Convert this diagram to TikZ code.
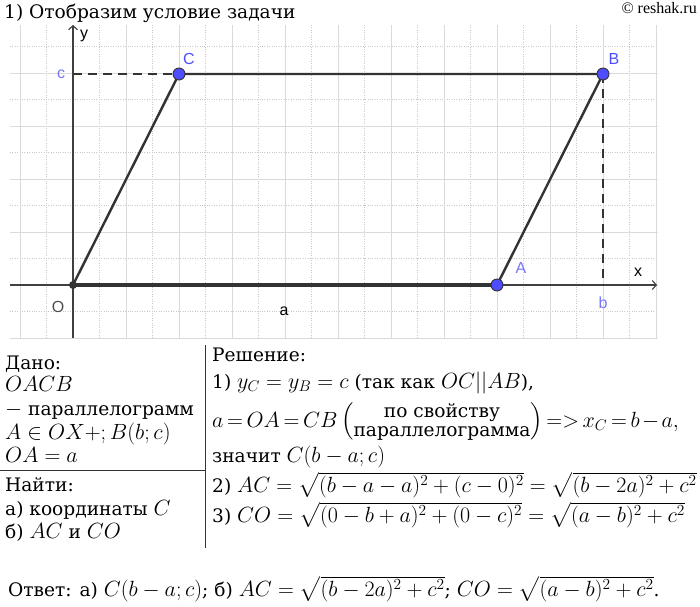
\RequirePackage{fix-cm}
\documentclass[tikz,border=0pt]{standalone}
\usepackage{amsmath}
\usepackage{fontspec}
\setmainfont{DejaVu Serif}[Scale=0.845]
\newfontfamily\geofont{Liberation Sans}
\newfontfamily\sitefont{Liberation Serif}
\usetikzlibrary{arrows.meta}
\definecolor{ptblue}{RGB}{77,77,255}
\definecolor{lblblue}{RGB}{120,120,255}
\definecolor{segdark}{RGB}{51,51,51}
\definecolor{gridgray}{RGB}{218,218,218}
\definecolor{minorgray}{RGB}{200,200,200}
\begin{document}
\begin{tikzpicture}[x=1pt,y=-1pt,
    pt/.style={circle,draw=segdark,fill=ptblue,line width=0.9pt,inner sep=0pt,minimum size=12pt},
    lbl/.style={font=\geofont\fontsize{16}{16}\selectfont,text=ptblue,inner sep=0pt},
    seg/.style={draw=segdark,line width=2.4pt},
    axisline/.style={draw=black!75,line width=1.1pt,-{Straight Barb[length=4pt,width=9pt]}},
    dashline/.style={draw=segdark,line width=2pt,dash pattern=on 9pt off 6pt},
    txt/.style={anchor=base west,inner sep=0pt,font=\fontsize{22}{25}\selectfont}]
  \fill[white] (0,0) rectangle (700,606);
  \useasboundingbox (0,0) rectangle (700,606);

  \node[txt] (title) at (4,18) {1) Отобразим условие задачи};
  \node[anchor=base east,inner sep=0pt,font=\sitefont\fontsize{16}{16}\selectfont] (site) at (697,13) {© reshak.ru};

  \begin{scope}[shift={(0,0)}]
    \foreach \gx in {46.5,99.5,...,660} \draw[minorgray,dotted] (\gx,25) -- (\gx,338);
    \foreach \gy in {46.5,99.5,...,320} \draw[minorgray,dotted] (10,\gy) -- (658,\gy);
    \foreach \gx in {20,73,...,660} \draw[gridgray] (\gx,25) -- (\gx,338);
    \foreach \gy in {73,126,...,340} \draw[gridgray] (10,\gy) -- (658,\gy);

    \coordinate (O) at (73,285);
    \coordinate (A) at (497,285);
    \coordinate (B) at (603,74);
    \coordinate (C) at (179,74);
    \coordinate (cy) at (73,74);
    \coordinate (bx) at (603,285);
    \coordinate (xs) at (10,285);
    \coordinate (xe) at (657,285);
    \coordinate (ys) at (73,338);
    \coordinate (ye) at (73,25);

    \draw[axisline] (xs) -- (xe);
    \draw[axisline] (ys) -- (ye);
    \draw[dashline] (cy) -- (C);
    \draw[dashline] (B) -- (bx);
    \draw[seg] (O) -- (C) -- (B) -- (A);
    \draw[seg,line width=3.4pt] (O) -- (A);

    \fill[segdark] (O) circle (4);
    \node[pt] (Cpt) at (C) {};
    \node[pt] (Bpt) at (B) {};
    \node[pt] (Apt) at (A) {};

    \node[lbl] (Clbl) at (189,59) {C};
    \node[lbl] (Blbl) at (614,59) {B};
    \node[lbl,text=lblblue] (Albl) at (521,268) {A};
    \node[lbl,text=lblblue] (clbl) at (61,74) {c};
    \node[lbl,text=lblblue] (blbl) at (603,303) {b};
    \node[lbl,text=black!70] (Olbl) at (58,307) {O};
    \node[lbl,text=black] (xlbl) at (638,272) {x};
    \node[lbl,text=black] (ylbl) at (84,36) {y};
    \node[lbl,text=black] (albl) at (284,311) {a};
  \end{scope}

  \coordinate (vtop) at (205,345);
  \coordinate (vbot) at (205,548);
  \coordinate (hleft) at (0,470);
  \coordinate (hright) at (205,470);
  \draw[black!80,line width=1pt] (vtop) -- (vbot);
  \draw[black!80,line width=1pt] (hleft) -- (hright);

  \begin{scope}[shift={(5,0)}]
    \node[txt] (given0) at (0,369) {Дано:};
    \node[txt] (given1) at (0,391) {$OACB$};
    \node[txt] (given2) at (0,415) {$-$ параллелограмм};
    \node[txt] (given3) at (0,439) {$A\in OX+;B(b;c)$};
    \node[txt] (given4) at (0,462) {$OA=a$};
    \node[txt] (find0) at (0,491) {Найти:};
    \node[txt] (find1) at (0,515) {а) координаты $C$};
    \node[txt] (find2) at (0,538) {б) $AC$ и $CO$};
  \end{scope}

  \begin{scope}[shift={(212,0)}]
    \node[txt] (sol0) at (0,361) {Решение:};
    \node[txt] (sol1) at (0,388) {1) $y_C=y_B=c$ (так как $OC||AB$),};
    \node[txt] (sol2) at (0,427) {\thickmuskip=3mu\medmuskip=2mu$a=OA=CB\,\Bigl(\begin{matrix}\text{по свойству}\\[-6pt]\text{параллелограмма}\end{matrix}\Bigr)=>x_C=b-a,$};
    \node[txt] (sol3) at (0,462) {значит $C(b-a;c)$};
    \node[txt] (sol4) at (0,492) {2) $AC=\sqrt{(b-a-a)^2+(c-0)^2}=\sqrt{(b-2a)^2+c^2}$};
    \node[txt] (sol5) at (0,522) {3) $CO=\sqrt{(0-b+a)^2+(0-c)^2}=\sqrt{(a-b)^2+c^2}$};
  \end{scope}

  \node[txt] (answer) at (8,596) {Ответ: а) $C(b-a;c)$; б) $AC=\sqrt{(b-2a)^2+c^2}$; $CO=\sqrt{(a-b)^2+c^2}$.};
\end{tikzpicture}
\end{document}
